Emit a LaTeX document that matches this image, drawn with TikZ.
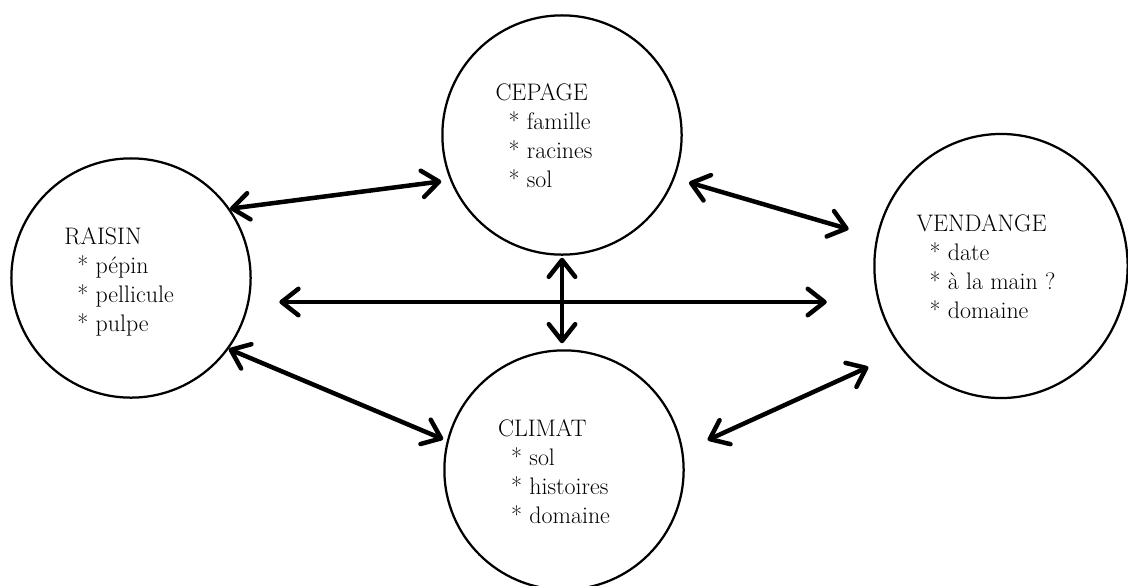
\documentclass[tikz,border=0pt]{standalone}
\usepackage{fontspec}
\usetikzlibrary{positioning,arrows.meta,shapes.geometric}

\newcommand{\attr}[1]{\hspace*{0.55em}* #1}

\tikzset{
  topic/.style={circle, draw, line width=1.6pt, minimum size=5.98cm, inner sep=0pt},
  topictext/.style={align=left, inner sep=0pt, font=\fontsize{17}{20.6}\selectfont},
  link/.style={line width=3.2pt, line cap=round,
    {Straight Barb[length=0.42cm,width=0.66cm,round]}-{Straight Barb[length=0.42cm,width=0.66cm,round]}}
}

\begin{document}
\begin{tikzpicture}[x=0.025cm,y=-0.025cm]
\useasboundingbox (0,0) rectangle (1128,585);

\node[topic] (raisin) at (131,278) {};
\node[topic] (cepage) at (562,135) {};
\node[topic] (climat) at (564,470) {};
\node[topic, ellipse, minimum width=6.33cm, minimum height=6.6cm] (vendange) at (1001,266) {};

% contents
\node[topictext] (raisin text) at ([shift={(-12,4)}]raisin.center)
  {RAISIN\\\attr{pépin}\\\attr{pellicule}\\\attr{pulpe}};
\node[topictext] (cepage text) at ([shift={(-18,1)}]cepage.center)
  {CEPAGE\\\attr{famille}\\\attr{racines}\\\attr{sol}};
\node[topictext] (climat text) at ([shift={(-10,2)}]climat.center)
  {CLIMAT\\\attr{sol}\\\attr{histoires}\\\attr{domaine}};
\node[topictext] (vendange text) at ([shift={(-15,1)}]vendange.center)
  {VENDANGE\\\attr{date}\\\attr{à la main ?}\\\attr{domaine}};

% links
\draw[link, shorten >=0.22cm] (raisin.35) -- (cepage.202);
\draw[link, shorten <=0.37cm, shorten >=0.72cm] (cepage.339) -- (vendange.167);
\draw[link, shorten <=0.69cm, shorten >=1.16cm] (raisin.east |- 0,302) -- (vendange.west |- 0,302);
\draw[link, shorten <=0.05cm, shorten >=0.15cm] (cepage.south) -- (cepage.south |- climat.north);
\draw[link, shorten >=0.1cm] (raisin.324) -- (climat.166);
\draw[link, shorten <=0.67cm, shorten >=0.95cm] (climat.9) -- (vendange.221);
\end{tikzpicture}
\end{document}
